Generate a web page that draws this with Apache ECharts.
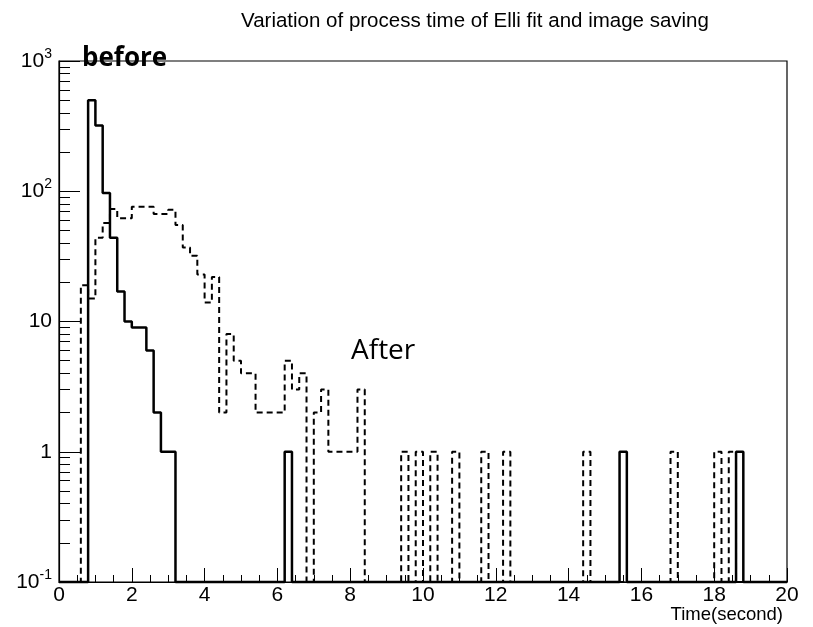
<!DOCTYPE html>
<html>
<head>
<meta charset="utf-8">
<script src="https://cdn.jsdelivr.net/npm/echarts@6/dist/echarts.min.js"></script>
<style>
html,body{margin:0;padding:0;background:#fff;}
#chart{width:813px;height:627px;}
</style>
</head>
<body>
<div id="chart"></div>
<script>
// Histogram binning (seconds)
const xMin = 0;
const xMax = 20;
const binWidth = 0.2;

// "before" (solid): contiguous bins starting at 0.8 s, plus isolated single-count bins
const beforeStart = 0.8;
const beforeCounts = [500, 320, 97, 44, 17, 10, 9, 9, 6, 2, 1, 1];
const beforeSingles = [6.2, 15.4, 18.6];

// "After" (dashed): contiguous bins starting at 0.6 s, plus isolated single-count bins
const afterStart = 0.6;
const afterCounts = [19, 15, 44, 57, 73, 62, 62, 76, 76, 76, 67, 67, 72, 55, 37, 32,
  23, 14, 22, 2, 8, 5, 4, 4, 2, 2, 2, 2, 5, 3, 4, 0, 2, 3, 1, 1, 1, 1, 3];
const afterSingles = [9.4, 9.8, 10.2, 10.8, 11.6, 12.2, 14.4, 16.8, 18.0, 18.4];

// Axis ticks
const yMin = 0.1;
const yMax = 1000;
const yMajorTicks = [0.1, 1, 10, 100, 1000];
const yMinorTicks = [];
[0.1, 1, 10, 100].forEach(d => { for (let k = 2; k <= 9; k++) yMinorTicks.push(+(d * k).toPrecision(3)); });

const titleText = 'Variation of process time of Elli fit and image saving';
const xTitle = 'Time(second)';

function buildBins(start, counts, singles) {
  const n = Math.round((xMax - xMin) / binWidth);
  const arr = new Array(n).fill(0);
  const s = Math.round((start - xMin) / binWidth);
  counts.forEach((c, i) => { arr[s + i] = c; });
  singles.forEach(e => { arr[Math.round((e - xMin) / binWidth)] += 1; });
  return arr;
}
function stepData(bins) {
  const pts = bins.map((c, i) => [+(xMin + i * binWidth).toFixed(2), c > 0 ? c : yMin]);
  pts.push([xMax, bins[bins.length - 1] > 0 ? bins[bins.length - 1] : yMin]);
  return pts;
}
const beforeBins = buildBins(beforeStart, beforeCounts, beforeSingles);
const afterBins = buildBins(afterStart, afterCounts, afterSingles);

const FONT = 'Liberation Sans, Arial, Helvetica, sans-serif';

const chart = echarts.init(document.getElementById('chart'), null, {renderer: 'canvas'});
chart.setOption({
  animation: false,
  backgroundColor: '#fff',
  title: {
    text: titleText,
    left: 236, top: 6,
    textStyle: {fontFamily: FONT, fontSize: 20.5, fontWeight: 'normal', color: '#000'}
  },
  grid: {left: 59, right: 26, top: 61, bottom: 45, show: true, borderColor: '#000', borderWidth: 1.2, backgroundColor: 'transparent'},
  xAxis: {
    type: 'value', min: xMin, max: xMax, interval: 2,
    axisLine: {lineStyle: {color: '#000', width: 1.2}},
    axisTick: {inside: true, length: 14, lineStyle: {color: '#000', width: 1}},
    minorTick: {show: true, splitNumber: 4, length: 7, lineStyle: {color: '#000', width: 1}},
    axisLabel: {fontFamily: FONT, fontSize: 21, color: '#000', margin: 3},
    splitLine: {show: false}
  },
  yAxis: [{
    type: 'log', logBase: 10, min: yMin, max: yMax,
    axisLine: {show: true, lineStyle: {color: '#000', width: 1.2}},
    axisTick: {inside: true, length: 21, customValues: yMajorTicks, lineStyle: {color: '#000', width: 1}},
    axisLabel: {
      customValues: yMajorTicks,
      margin: 7,
      formatter: v => {
        const e = Math.round(Math.log10(v));
        if (e === 0) return '{m|1}';
        if (e === 1) return '{m|10}';
        return '{m|10}{s|' + e + '}';
      },
      rich: {
        m: {fontFamily: FONT, fontSize: 21, color: '#000', lineHeight: 28},
        s: {fontFamily: FONT, fontSize: 14, color: '#000', verticalAlign: 'top'}
      }
    },
    splitLine: {show: false}
  }, {
    type: 'log', logBase: 10, min: yMin, max: yMax, position: 'left',
    axisLine: {show: false},
    axisTick: {show: true, inside: true, length: 11, customValues: yMinorTicks, lineStyle: {color: '#000', width: 1}},
    axisLabel: {show: false},
    splitLine: {show: false}
  }],
  series: [{
    name: 'before', type: 'line', step: 'end', data: stepData(beforeBins),
    showSymbol: false, clip: false, z: 3,
    lineStyle: {color: '#000', width: 2.5, type: 'solid'}
  }, {
    name: 'After', type: 'line', step: 'end', data: stepData(afterBins),
    showSymbol: false, clip: false, z: 4,
    lineStyle: {color: '#000', width: 2, type: [6, 4]}
  }],
  graphic: [{
    type: 'text', left: 82, top: 46,
    style: {text: 'before', font: 'bold 26px "Open Sans", "Noto Sans", sans-serif', fill: '#000'}
  }, {
    type: 'text', left: 351, top: 337,
    style: {text: 'After', font: '28px "Open Sans", "Noto Sans", sans-serif', fill: '#000'}
  }, {
    type: 'text', right: 30, bottom: 3,
    style: {text: xTitle, font: '18.5px "Liberation Sans", Arial, sans-serif', fill: '#000'}
  }]
});
</script>
</body>
</html>
